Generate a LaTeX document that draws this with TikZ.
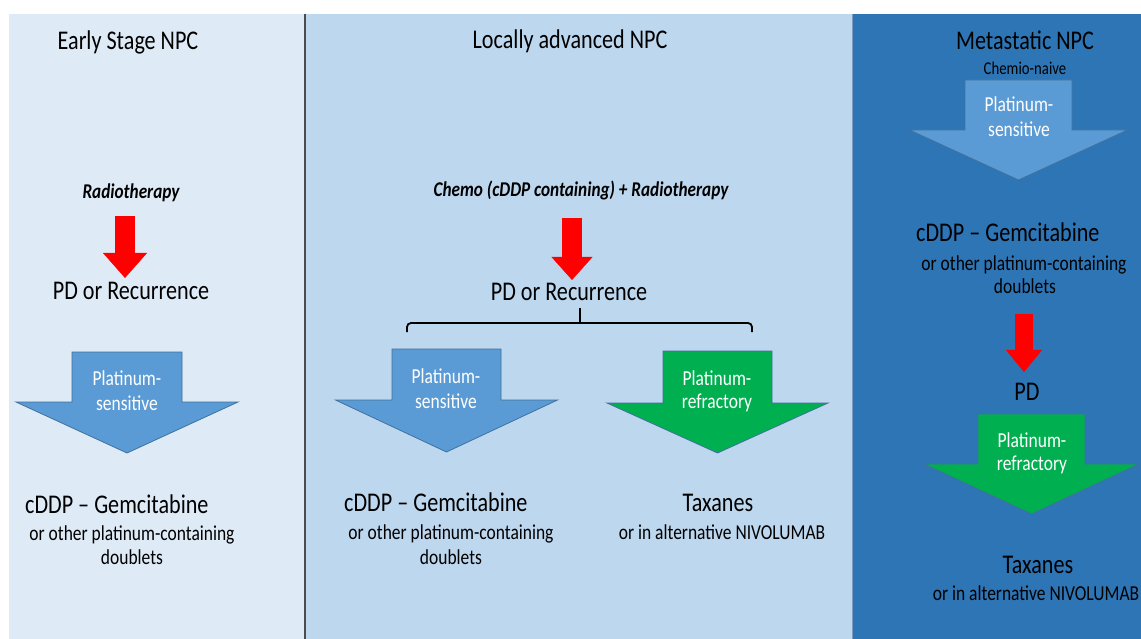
\documentclass[tikz,border=0pt]{standalone}
\usepackage{fontspec}
\setmainfont{Carlito}[FakeStretch=0.82]
\usetikzlibrary{arrows.meta}
\definecolor{paneA}{HTML}{DEEBF7}
\definecolor{paneB}{HTML}{BDD7EE}
\definecolor{paneC}{HTML}{2E75B6}
\definecolor{arrblue}{HTML}{5B9BD5}
\definecolor{arrgreen}{HTML}{00B050}
\definecolor{arrline}{HTML}{41719C}
\newcommand{\blockarrow}[7]{\draw[#1] (#2-#4,#3) -- (#2+#4,#3) -- (#2+#4,#5) -- (#2+#6,#5) -- (#2,#7) -- (#2-#6,#5) -- (#2-#4,#5) -- cycle;}
\begin{document}
\begin{tikzpicture}[x=1pt,y=-1pt,
		ttl/.style={font=\fontsize{27}{32}\selectfont,anchor=base,inner sep=0pt},
		sm/.style={font=\fontsize{21.3}{25}\selectfont,anchor=base,inner sep=0pt},
		note/.style={font=\fontsize{18}{21}\selectfont,anchor=base,inner sep=0pt},
		bi/.style={font=\fontsize{21}{25}\selectfont\bfseries\itshape,anchor=base,inner sep=0pt},
		inarr/.style={sm,text=white},
		bluearr/.style={fill=arrblue,draw=arrline,line width=0.8pt},
		greenarr/.style={fill=arrgreen,draw=arrline,line width=0.8pt},
		redarr/.style n args={3}{draw=red,line width=#1,-{Triangle[width=#2,length=#3,line width=0.5pt]}},
		brace/.style={line width=1.8pt,rounded corners=4pt}]
		\useasboundingbox (0,0) rectangle (1141,639);
		\fill[paneA] (9,14) rectangle (305,639);
		\fill[paneB] (305,14) rectangle (852,639);
		\fill[paneC] (852,14) rectangle (1141,639);
		\draw[gray!60!black,line width=1.2pt] (305,14) -- (305,639);
		\draw[arrline!70!white,line width=1pt] (852,14) -- (852,639);
		\node[ttl] (tEarly) at (128,50) {Early Stage NPC};
		\node[ttl] (tLocal) at (570,49) {Locally advanced NPC};
		\node[ttl] (tMeta) at (1025,50) {Metastatic NPC};
		\node[note] (tNaive) at (1025,75) {Chemio-naive};
		\node[bi] (radio) at (131,199) {Radiotherapy};
		\node[bi] (chemo) at (581,197) {Chemo (cDDP containing) + Radiotherapy};
		\node[ttl] (pdA) at (131,299) {PD or Recurrence};
		\node[ttl] (pdB) at (569,300) {PD or Recurrence};
		\node[ttl] (pdC) at (1027,400) {PD};
		\blockarrow{bluearr}{127}{352}{55}{402}{111}{453}
		\blockarrow{bluearr}{446.5}{349}{54.5}{400}{111}{452}
		\blockarrow{greenarr}{717.5}{351}{54.5}{403}{110.5}{453}
		\blockarrow{bluearr}{1018.5}{80}{53.5}{130}{109}{180}
		\blockarrow{greenarr}{1031.5}{414}{53.5}{464}{107.5}{514}
		\node[inarr] (psA1) at (127,385) {Platinum-};
		\node[inarr] (psA2) at (127,410) {sensitive};
		\node[inarr] (psB1) at (446,383) {Platinum-};
		\node[inarr] (psB2) at (446,408) {sensitive};
		\node[inarr] (prB1) at (717,385) {Platinum-};
		\node[inarr] (prB2) at (717,408) {refractory};
		\node[inarr] (psC1) at (1019,112) {Platinum-};
		\node[inarr] (psC2) at (1019,137) {sensitive};
		\node[inarr] (prC1) at (1032,447) {Platinum-};
		\node[inarr] (prC2) at (1032,470) {refractory};
		\node[ttl,anchor=base west] (gemA) at (25,513) {cDDP – Gemcitabine};
		\node[sm] (othA) at (132,540) {or other platinum-containing};
		\node[sm] (dblA) at (132,564) {doublets};
		\node[ttl,anchor=base west] (gemB) at (344,511) {cDDP – Gemcitabine};
		\node[sm] (othB) at (451,539) {or other platinum-containing};
		\node[sm] (dblB) at (451,564) {doublets};
		\node[ttl] (taxB) at (718,511) {Taxanes};
		\node[sm] (altB) at (722,539) {or in alternative NIVOLUMAB};
		\node[ttl,anchor=base west] (gemC) at (916,242) {cDDP – Gemcitabine};
		\node[sm] (othC) at (1024,270) {or other platinum-containing};
		\node[sm] (dblC) at (1025,294) {doublets};
		\node[ttl] (taxC) at (1038,573) {Taxanes};
		\node[sm] (altC) at (1036,600) {or in alternative NIVOLUMAB};
		\draw[redarr={20pt}{44pt}{25pt},shorten <=13pt,shorten >=3.5pt] ([xshift=-6pt]radio.south) -- ([xshift=-6pt]pdA.north);
		\draw[redarr={20pt}{41pt}{23pt},shorten <=17.5pt,shorten >=2.5pt] ([xshift=-9pt]chemo.south) -- ([xshift=3pt]pdB.north);
		\draw[redarr={18pt}{36pt}{22pt},shorten <=20pt,shorten >=10.5pt] ([xshift=-1pt]dblC.south) -- ([xshift=-3pt]pdC.north);
		\coordinate (brL) at (407,332);
		\coordinate (brR) at (752,332);
		\coordinate (brM) at (580,323);
		\draw[brace] (brL) -- ++(0,-9) -| (brR);
		\draw[brace,shorten <=8pt] (brM |- pdB.south) -- (brM);
\end{tikzpicture}
\end{document}
